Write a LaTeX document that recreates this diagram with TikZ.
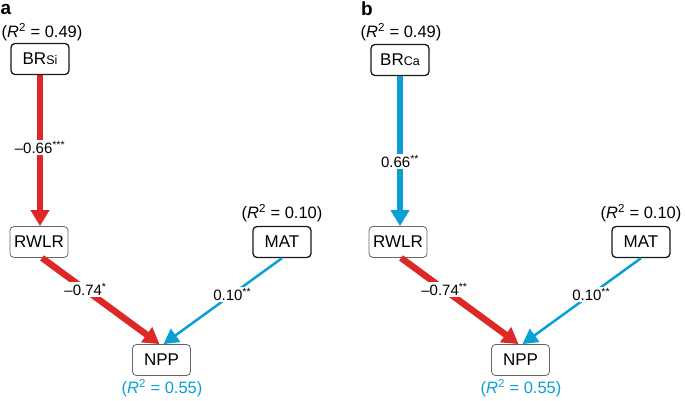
\documentclass[tikz,border=0pt]{standalone}
\usepackage{fontspec}
\setmainfont{Liberation Sans}
\usetikzlibrary{arrows.meta}
\usetikzlibrary{positioning}

\definecolor{pathred}{RGB}{222,40,40}
\definecolor{pathblue}{RGB}{10,160,212}

\tikzset{
  var/.style={draw=black!60, line width=0.8pt, rounded corners=4pt, minimum width=58pt, minimum height=31pt,
    inner sep=0pt, font=\fontsize{17}{17}\selectfont},
  exo/.style={var, draw=black!90, line width=1.3pt},
  coef/.style={fill=white, text=black, inner sep=1pt, font=\fontsize{15}{15}\selectfont},
  rsq/.style={font=\fontsize{16.5}{16.5}\selectfont},
  panel/.style={font=\fontsize{19}{19}\bfseries},
  strong/.style={line width=6.5pt, -{Triangle[length=16pt,width=18pt]}},
  weak/.style={line width=2.5pt, -{Triangle[length=15pt,width=16pt]}}
}

\begin{document}
\begin{tikzpicture}[x=1pt,y=-1pt]
      \useasboundingbox (0,0) rectangle (685,401);
      % common lower part of both panels
      \foreach \p/\dx/\st in {1/0/*, 2/359/**} {
	\node[var] (rwlr\p) at (39+\dx,242) {RWLR};
	\node[exo] (mat\p) at (282+\dx,242) {MAT};
	\node[var] (npp\p) at (161.5+\dx,360) {NPP};
	\node[rsq] at (282+\dx,213) {(\textit{R}\textsuperscript{2} = 0.10)};
	\node[rsq, text=pathblue] at (162+\dx,388) {(\textit{R}\textsuperscript{2} = 0.55)};
	\draw[pathred, strong] ([xshift=3pt]rwlr\p.south) -- ([xshift=-2pt]npp\p.north)
		node[coef, pos=0.37] {–0.74\textsuperscript{\st}};
	\draw[pathblue, weak] (mat\p.south) -- ([xshift=2pt]npp\p.north)
		node[coef, pos=0.42] {0.10\textsuperscript{**}};
      }
      % panel a
      \node[panel] at (6,9) {a};
      \node[exo] (br1) at (40,59) {BR{\fontsize{12.5}{12.5}\selectfont Si}};
      \node[rsq] at (42,32) {(\textit{R}\textsuperscript{2} = 0.49)};
      \draw[pathred, strong] (br1.south) -- (br1.south |- rwlr1.north)
		node[coef, pos=0.48] {–0.66\textsuperscript{***}};
      % panel b
      \node[panel] at (367,9) {b};
      \node[exo] (br2) at (400,60) {BR{\fontsize{12.5}{12.5}\selectfont Ca}};
      \node[rsq] at (401,32) {(\textit{R}\textsuperscript{2} = 0.49)};
      \draw[pathblue, strong] (br2.south) -- (br2.south |- rwlr2.north)
		node[coef, pos=0.57] {0.66\textsuperscript{**}};
    \end{tikzpicture}
\end{document}
